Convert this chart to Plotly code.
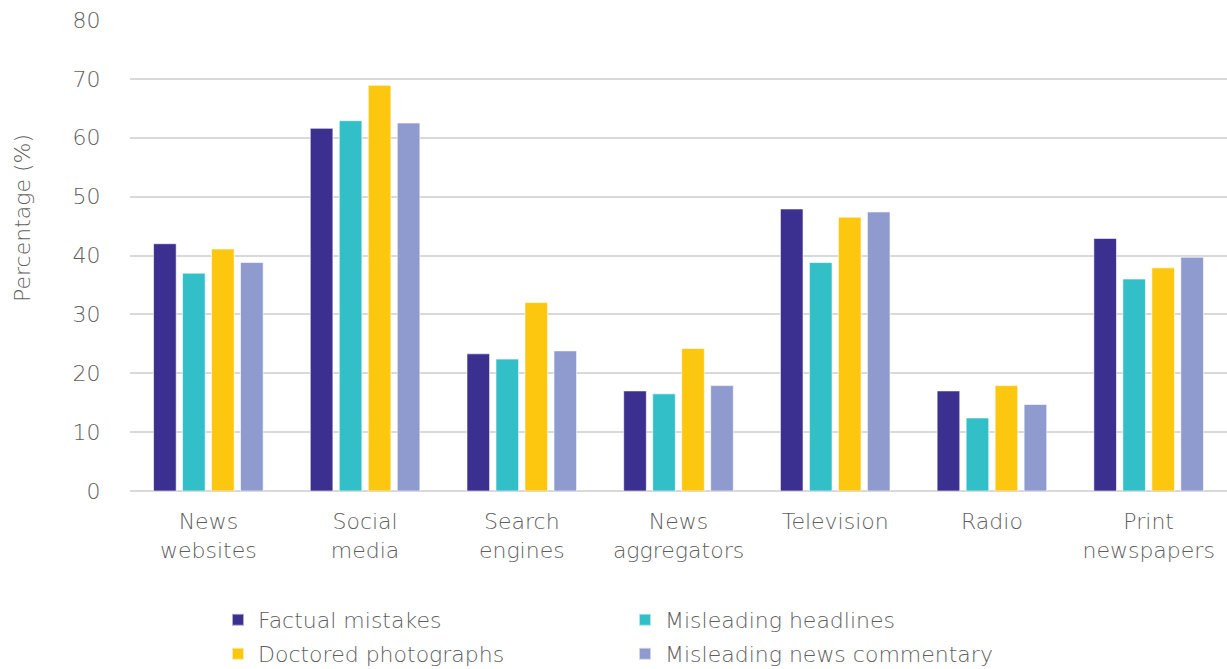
import plotly.graph_objects as go

categories = ["News<br>websites", "Social<br>media", "Search<br>engines", "News<br>aggregators",
              "Television", "Radio", "Print<br>newspapers"]
factual_mistakes = [42.0, 61.6, 23.3, 17.0, 47.9, 17.0, 42.9]
misleading_headlines = [37.0, 62.9, 22.4, 16.5, 38.8, 12.4, 36.0]
doctored_photographs = [41.1, 68.9, 32.0, 24.2, 46.5, 17.9, 37.9]
misleading_commentary = [38.8, 62.5, 23.8, 17.9, 47.4, 14.7, 39.7]

series = [
    ("Factual mistakes", factual_mistakes, "#3B2F8F", "legend"),
    ("Misleading headlines", misleading_headlines, "#32BFC8", "legend"),
    ("Doctored photographs", doctored_photographs, "#FDC70F", "legend2"),
    ("Misleading news commentary", misleading_commentary, "#8F9BCE", "legend2"),
]

FONT = "DejaVu Sans"
GRAY = "#5f5f5f"
W = 200
FS = 22

fig = go.Figure()
for name, vals, color, lg in series:
    fig.add_trace(go.Bar(x=categories, y=vals, name=name, legend=lg,
                         marker=dict(color=color, line=dict(color="rgba(255,255,255,0.6)", width=1))))

legend_common = dict(orientation="h", x=218 / 1227, xanchor="left", xref="container",
                     yanchor="top", yref="container",
                     entrywidth=362, entrywidthmode="pixels",
                     font=dict(family=FONT, size=FS, color=GRAY, weight=W),
                     itemsizing="constant", bgcolor="rgba(0,0,0,0)")

fig.update_layout(
    width=1227, height=669,
    margin=dict(l=130, r=0, t=20, b=178, autoexpand=False),
    paper_bgcolor="white", plot_bgcolor="white",
    barmode="group", bargap=0.26, bargroupgap=0.22,
    font=dict(family=FONT, color=GRAY, size=FS, weight=W),
    showlegend=True,
    legend=dict(legend_common, y=1 - 599 / 669),
    legend2=dict(legend_common, y=1 - 633 / 669),
    annotations=[dict(text="Percentage (%)", textangle=-90, xref="paper", yref="paper",
                      x=(22 - 130) / 1097, y=(491 - 218) / 471, xanchor="center", yanchor="middle",
                      showarrow=False, font=dict(family=FONT, size=FS, color=GRAY, weight=W))],
)
fig.update_yaxes(range=[0, 80], dtick=10, showgrid=True, gridcolor="#d9d9d9", gridwidth=2,
                 zeroline=True, zerolinecolor="#d9d9d9", zerolinewidth=2,
                 showline=False, ticks="outside", ticklen=24, tickcolor="rgba(0,0,0,0)",
                 tickfont=dict(size=FS, color=GRAY, weight=W), automargin=False)
fig.update_xaxes(showgrid=False, showline=False, ticks="outside", ticklen=11, automargin=False,
                 tickcolor="rgba(0,0,0,0)", tickfont=dict(size=FS, color=GRAY, weight=W))

fig.write_html("out.html", config={"displayModeBar": False},
               post_script="document.body.style.margin='0';document.body.style.overflow='hidden';")
